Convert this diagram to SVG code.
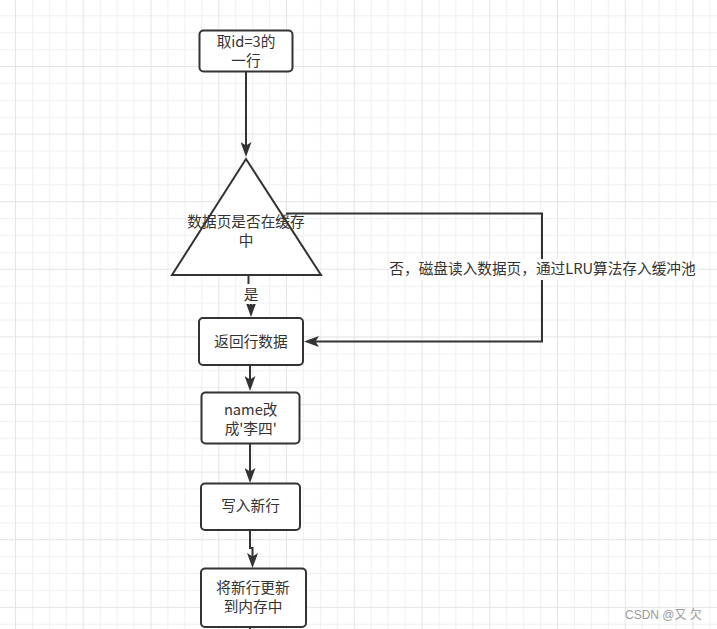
<svg xmlns="http://www.w3.org/2000/svg" width="717" height="629" viewBox="0 0 717 629">
  <style>
    .box { fill: #ffffff; stroke: #333333; stroke-width: 2; }
    .edge { fill: none; stroke: #333333; stroke-width: 2; }
    .t { font-family: "Noto Sans CJK SC", "Liberation Sans", sans-serif; font-size: 14.67px; fill: #333333; text-anchor: middle; }
    .bg { fill: #ffffff; }
  </style>
  <defs>
    <pattern id="grid" patternUnits="userSpaceOnUse" x="15" y="-1.6" width="67.75" height="67.6">
      <rect x="0" y="0" width="67.75" height="67.6" fill="#ffffff"/>
      <g fill="#f0f0f0">
        <rect x="16.94" y="0" width="1" height="67.6"/>
        <rect x="33.88" y="0" width="1" height="67.6"/>
        <rect x="50.81" y="0" width="1" height="67.6"/>
        <rect x="0" y="16.9" width="67.75" height="1"/>
        <rect x="0" y="33.8" width="67.75" height="1"/>
        <rect x="0" y="50.7" width="67.75" height="1"/>
      </g>
      <g fill="#e4e4e4">
        <rect x="0" y="0" width="1" height="67.6"/>
        <rect x="0" y="0" width="67.75" height="1"/>
      </g>
    </pattern>
    <marker id="arrow" markerUnits="userSpaceOnUse" markerWidth="15" markerHeight="11" viewBox="0 0 15 11" refX="4" refY="5.5" orient="auto">
      <path d="M0,0 L15,5.5 L0,11 L3.5,5.5 Z" fill="#333333"/>
    </marker>
  </defs>
  <rect x="0" y="0" width="717" height="629" fill="url(#grid)"/>

  <g id="connectors">
    <path class="edge" d="M246 72 V146" marker-end="url(#arrow)"/>
    <path class="edge" d="M248.5 275 V294 H251 V306" marker-end="url(#arrow)"/>
    <path class="edge" d="M286 213.5 H542 V341.5 H315" marker-end="url(#arrow)"/>
    <path class="edge" d="M250 365 V380" marker-end="url(#arrow)"/>
    <path class="edge" d="M250 443.5 V472" marker-end="url(#arrow)"/>
    <path class="edge" d="M250 530 V548 H252.5 V557" marker-end="url(#arrow)"/>
    <path class="edge" d="M250 627 V640"/>
    <g id="label-yes">
      <rect class="bg" x="243" y="284" width="16" height="20"/>
      <text class="t" x="251" y="299.6">是</text>
    </g>
    <g id="label-no">
      <rect class="bg" x="389" y="259" width="308" height="21"/>
      <text class="t" x="542.5" y="273.6">否，磁盘读入数据页，通过LRU算法存入缓冲池</text>
    </g>
  </g>

  <g id="node-start">
    <rect class="box" x="199.5" y="30.5" width="93" height="41" rx="4"/>
    <text class="t" x="246" y="46.8"><tspan x="246">取id=3的</tspan><tspan x="246" dy="19">一行</tspan></text>
  </g>

  <g id="node-decision">
    <polygon class="box" points="246,159 172,275 321,275"/>
    <text class="t" x="246" y="226.7"><tspan x="246">数据页是否在缓存</tspan><tspan x="246" dy="19">中</tspan></text>
  </g>

  <g id="node-return">
    <rect class="box" x="199" y="318" width="104" height="47" rx="4"/>
    <text class="t" x="251" y="347">返回行数据</text>
  </g>

  <g id="node-rename">
    <rect class="box" x="201.5" y="392.5" width="98" height="51" rx="4"/>
    <text class="t" x="250.7" y="414.6"><tspan x="250.7">name改</tspan><tspan x="250.7" dy="19">成'李四'</tspan></text>
  </g>

  <g id="node-write">
    <rect class="box" x="201" y="483.5" width="99" height="46.5" rx="4"/>
    <text class="t" x="250.5" y="511.3">写入新行</text>
  </g>

  <g id="node-update">
    <rect class="box" x="201" y="568.5" width="105" height="58.5" rx="4"/>
    <text class="t" x="253" y="593.3"><tspan x="253">将新行更新</tspan><tspan x="253" dy="19">到内存中</tspan></text>
  </g>

  <text x="625" y="618.5" font-family="'Liberation Sans', 'Noto Sans CJK SC', sans-serif" font-size="12" fill="#9a9a9a">CSDN @又 欠</text>
</svg>
